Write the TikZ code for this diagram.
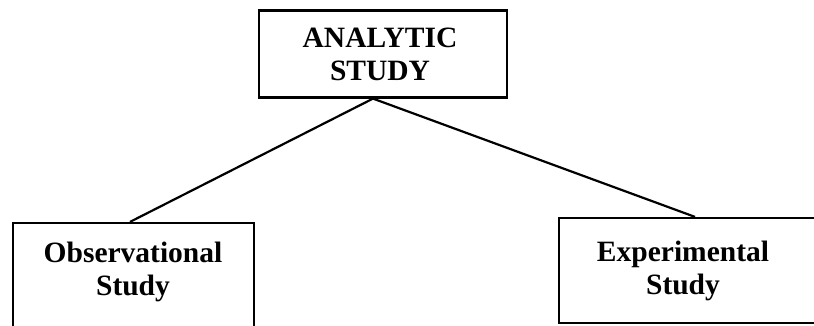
\documentclass[tikz,border=0pt]{standalone}
\usepackage{fontspec}
\setmainfont{Liberation Serif}
\begin{document}
\begin{tikzpicture}[x=1pt,y=-1pt,
  box/.style={draw=black,line width=2.2pt,inner sep=0pt,fill=none},
  lbl/.style={font=\fontsize{29.5}{33}\selectfont\bfseries,align=center,inner sep=0pt,text=black},
  conn/.style={draw=black,line width=2.2pt}]
\useasboundingbox (0,0) rectangle (814,326);
\clip (0,0) rectangle (814,326);
\fill[white] (0,0) rectangle (814,326);
\node[box,minimum width=248pt,minimum height=87pt] (top) at (383,54) {};
\node[lbl] (toplbl) at (380,54) {ANALYTIC\\STUDY};
\node[box,minimum width=241pt,minimum height=130pt] (obs) at (133.5,288) {};
\node[lbl] (obslbl) at (133,272) {Observational\\Study};
\node[box,minimum width=259pt,minimum height=105pt] (exp) at (688.5,270.5) {};
\node[lbl] (explbl) at (683,270.5) {Experimental\\Study};
\draw[conn] ([xshift=-10pt]top.south) -- ([xshift=-3.5pt]obs.north);
\draw[conn] ([xshift=-10pt]top.south) -- ([xshift=6.5pt]exp.north);
\end{tikzpicture}
\end{document}
